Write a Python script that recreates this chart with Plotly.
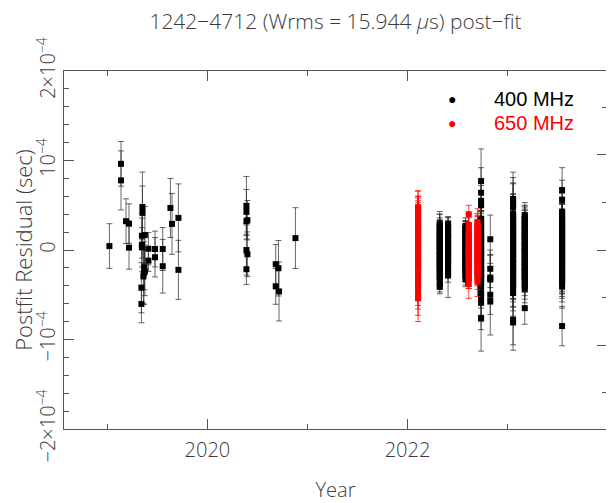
import plotly.graph_objects as go

# ---------------- data (residuals and errors in microseconds) ----------------
# sparse 400 MHz epochs, 2019-2021
early_year = [2019.02, 2019.136, 2019.136, 2019.186, 2019.216, 2019.216, 2019.34, 2019.34,
              2019.35, 2019.35, 2019.345, 2019.345, 2019.345, 2019.36, 2019.365, 2019.37,
              2019.375, 2019.375, 2019.41, 2019.41, 2019.476, 2019.476, 2019.553, 2019.553,
              2019.63, 2019.646, 2019.71, 2019.71,
              2020.39, 2020.39, 2020.39, 2020.40, 2020.39, 2020.40, 2020.39,
              2020.683, 2020.71, 2020.683, 2020.716, 2020.88]
early_res = [4.4, 96.3, 77.8, 32.2, 29.6, 2.6, -60.3, -42.2,
             48.1, 41.5, 15.9, 5.6, 3.0, -29.6, -25.9, -19.3,
             16.7, -24.0, 1.4, -11.9, 1.1, -8.1, 1.1, -18.1,
             47.0, 29.2, 35.9, -22.2,
             49.2, 42.6, 32.2, 33.3, 0.0, -4.8, -21.5,
             -15.9, -20.4, -40.7, -46.3, 13.3]
early_err = [25, 25, 33, 25, 22, 24, 21, 28,
             39, 30, 25, 30, 22, 30, 35, 25,
             32, 27, 18, 12, 20, 22, 24, 30,
             33, 34, 38, 33,
             33, 25, 20, 22, 28, 25, 17,
             22, 31, 20, 33, 34]

# dense 400 MHz epochs
b2_year = 2022.323
b2_res = [30, 28, 25, 26, 22, 20, 17, 18, 14, 11, 12, 8, 5, 6, 2, -1, 0, -4, -7, -6, -10, -13,
          -12, -16, -19, -18, -22, -25, -28, -27, -31, -34, -38, -41]
b2_err = [13, 12, 11, 14, 12, 10, 13, 11, 12, 14, 10, 12, 13, 11, 12, 10, 14, 12, 11, 13, 12, 10,
          11, 13, 12, 14, 10, 12, 11, 13, 12, 10, 9, 8]

b3_year = 2022.406
b3_res = [29, 27, 24, 25, 21, 18, 19, 15, 12, 13, 9, 6, 7, 3, 0, 1, -3, -6, -5, -9, -12, -11,
          -15, -18, -20, -23, -26, -28]
b3_err = [8, 10, 9, 11, 10, 8, 9, 10, 11, 9, 8, 10, 9, 11, 10, 8, 9, 10, 11, 9, 8, 10,
          9, 11, 10, 9, 10, 25]

b4_year = 2022.58
b4_res = [27, 25, 22, 23, 19, 16, 17, 13, 10, 11, 7, 4, 5, 1, -2, -1, -5, -8, -7, -11, -14, -13,
          -17, -20, -19, -23, -26, -29, -33]
b4_err = [9, 8, 10, 9, 8, 10, 9, 8, 10, 9, 8, 9, 10, 8, 9, 10, 8, 9, 10, 8, 9, 10,
          8, 9, 10, 8, 9, 10, 8]

b7_year = 2022.736
b7_res = [77, 64, 55, 50, 35, 33, 30, 31, 27, 24, 25, 21, 18, 19, 15, 12, 13, 9, 6, 7, 3, 0, 1,
          -3, -6, -5, -9, -12, -11, -15, -18, -17, -21, -24, -23, -27, -30, -29, -33, -36, -38,
          -41, -48, -53, -59, -76]
b7_err = [36, 28, 25, 22, 20, 18, 21, 19, 17, 20, 18, 22, 19, 17, 21, 18, 20, 19, 17, 22, 18, 20, 19,
          21, 17, 18, 20, 22, 19, 17, 21, 18, 20, 19, 22, 17, 18, 20, 21, 19, 22,
          24, 25, 27, 30, 37]

b8_year = 2022.828
b8_res = [12, -21, -31, -33, -50, -57]
b8_err = [27, 21, 25, 28, 22, 38]

b9_year = 2023.056
b9_res = [57, 54, 50, 48, 41, 38, 39, 35, 32, 33, 29, 26, 27, 23, 20, 21, 17, 14, 15, 11, 8, 9, 5,
          2, 3, -1, -4, -3, -7, -10, -9, -13, -16, -15, -19, -22, -21, -25, -28, -27, -31, -34,
          -33, -37, -40, -39, -44, -48, -78, -81]
b9_err = [30, 27, 25, 26, 22, 20, 23, 21, 19, 22, 20, 24, 21, 19, 23, 20, 22, 21, 19, 24, 20, 22, 21,
          23, 19, 20, 22, 24, 21, 19, 23, 20, 22, 21, 24, 19, 20, 22, 23, 21, 24, 20,
          22, 21, 23, 25, 24, 26, 28, 31]

b10_year = 2023.173
b10_res = [39, 37, 34, 35, 31, 28, 29, 25, 22, 23, 19, 16, 17, 13, 10, 11, 7, 4, 5, 1, -2, -1, -5,
           -8, -7, -11, -14, -13, -17, -20, -19, -23, -26, -25, -29, -32, -31, -35, -38, -41,
           -43, -65]
b10_err = [14, 13, 15, 12, 14, 13, 15, 12, 13, 14, 12, 15, 13, 14, 12, 13, 15, 14, 12, 13, 14, 15, 12,
           13, 14, 12, 15, 13, 14, 12, 13, 15, 14, 12, 13, 14, 15, 12, 13, 14, 16, 18]

b11_year = 2023.546
b11_res = [67, 56, 43, 41, 38, 39, 35, 32, 33, 29, 26, 27, 23, 20, 21, 17, 14, 15, 11, 8, 9, 5, 2,
           3, -1, -4, -3, -7, -10, -9, -13, -16, -15, -19, -22, -21, -25, -28, -27, -31, -34,
           -33, -37, -41, -85]
b11_err = [25, 22, 20, 18, 21, 19, 17, 20, 18, 22, 19, 17, 21, 18, 20, 19, 17, 22, 18, 20, 19, 21, 17,
           18, 20, 22, 19, 17, 21, 18, 20, 19, 22, 17, 18, 20, 21, 19, 22, 18, 20,
           19, 21, 24, 22]

# dense 650 MHz epochs
r1_year = 2022.106
r1_res = [48, 44, 46, 41, 38, 36, 39, 33, 30, 31, 27, 24, 25, 21, 18, 19, 15, 12, 13, 9, 6, 7, 3,
          0, -2, -5, -4, -8, -11, -10, -14, -17, -16, -20, -23, -25, -31, -34, -37, -40, -44,
          -46, -52, -54]
r1_err = [18, 16, 20, 17, 15, 19, 21, 16, 18, 15, 17, 20, 16, 18, 15, 19, 17, 16, 20, 18, 15, 17, 19,
          16, 18, 20, 15, 17, 16, 19, 18, 15, 17, 20, 16, 18, 15, 17, 19, 16, 18,
          20, 21, 26]

r5_year = 2022.613
r5_res = [40, 28, 25, 20, 17, 18, 14, 11, 8, 9, 5, 2, 3, -1, -4, -3, -7, -10, -9, -13, -16, -15,
          -19, -22, -25, -28, -31, -33, -38]
r5_err = [10, 12, 11, 10, 9, 11, 10, 12, 9, 10, 11, 10, 12, 9, 11, 10, 12, 10, 9, 11, 10, 12,
          11, 10, 9, 11, 12, 10, 16]

r6_year = 2022.70
r6_res = [31, 29, 26, 27, 23, 20, 21, 17, 14, 15, 11, 8, 9, 5, 2, 3, -1, -4, -3, -7, -10, -9,
          -13, -16, -15, -19, -22, -25, -24, -28, -31, -35]
r6_err = [15, 12, 13, 11, 14, 12, 13, 11, 12, 14, 13, 11, 12, 13, 14, 11, 12, 13, 12, 14, 11, 13,
          12, 14, 13, 11, 12, 13, 14, 12, 13, 17]

legend_names = ["400 MHz", "650 MHz"]
legend_colors = ["black", "#ff0000"]

US = 1e-6  # microseconds -> seconds

# ---------------- assemble ----------------
def gather(groups):
    xs, ys, es = [], [], []
    for yr, res, err in groups:
        if isinstance(yr, list):
            xs += yr
        else:
            xs += [yr] * len(res)
        ys += [v * US for v in res]
        es += [v * US for v in err]
    return xs, ys, es

x400, y400, e400 = gather([
    (early_year, early_res, early_err),
    (b2_year, b2_res, b2_err), (b3_year, b3_res, b3_err), (b4_year, b4_res, b4_err),
    (b7_year, b7_res, b7_err), (b8_year, b8_res, b8_err), (b9_year, b9_res, b9_err),
    (b10_year, b10_res, b10_err), (b11_year, b11_res, b11_err),
])
x650, y650, e650 = gather([
    (r1_year, r1_res, r1_err), (r5_year, r5_res, r5_err), (r6_year, r6_res, r6_err),
])

AX = "#555555"
TXT = "#3a3a3a"
FONT = "Open Sans"

fig = go.Figure()

fig.add_trace(go.Scatter(
    x=x400, y=y400, mode="markers", showlegend=False,
    marker=dict(symbol="square", size=6, color="black"),
    error_y=dict(type="data", array=e400, visible=True, color="rgba(40,40,40,0.7)",
                 thickness=1, width=3),
))
fig.add_trace(go.Scatter(
    x=x650, y=y650, mode="markers", showlegend=False,
    marker=dict(symbol="square", size=6, color="#ff0000"),
    error_y=dict(type="data", array=e650, visible=True, color="rgba(255,0,0,0.75)",
                 thickness=1, width=3),
))
# carrier for the right-hand tick axis
fig.add_trace(go.Scatter(x=[None], y=[None], yaxis="y2", showlegend=False, mode="markers"))

# legend (drawn as text)
annotations = []
leg_y = [0.921, 0.854]
for name, col, yy in zip(legend_names, legend_colors, leg_y):
    annotations.append(dict(xref="paper", yref="paper", x=0.715, y=yy, text="●",
                            showarrow=False, xanchor="center", yanchor="middle",
                            font=dict(family="DejaVu Sans", size=14, color=col)))
    annotations.append(dict(xref="paper", yref="paper", x=0.789, y=yy, text=name,
                            showarrow=False, xanchor="left", yanchor="middle",
                            font=dict(family="Liberation Sans", size=20, color=col)))

tfont = dict(size=20, color=TXT, family=FONT, weight=300)

# the page adds an 8 px body margin, so the figure is 8 px smaller than the window
fig.update_layout(
    width=606, height=495,
    margin=dict(l=56, r=7, t=63, b=74),
    plot_bgcolor="white", paper_bgcolor="white",
    font=dict(family=FONT, color=TXT, size=18, weight=300),
    showlegend=False,
    annotations=annotations,
    title=dict(text="1242−4712 (Wrms = 15.944 <i>μ</i>s) post−fit",
               xref="paper", x=0.5, xanchor="center", y=0.973, yanchor="middle",
               font=dict(size=21, color=TXT, family=FONT, weight=300)),
    xaxis=dict(
        range=[2018.566, 2023.995], tickmode="linear", tick0=2020, dtick=2,
        ticks="inside", ticklen=10, tickcolor=AX, tickwidth=1,
        minor=dict(tick0=2019, dtick=1, ticks="inside", ticklen=5, tickcolor=AX),
        showline=True, linecolor=AX, linewidth=1, mirror="ticks",
        showgrid=False, zeroline=False, automargin=False,
        tickfont=tfont, ticklabelstandoff=3,
        title=dict(text="Year", standoff=20, font=tfont),
    ),
    yaxis=dict(
        range=[-2.0005e-4, 2.0005e-4],
        tickmode="array", tickvals=[-2e-4, -1e-4, 0, 1e-4, 2e-4],
        ticktext=["−2×10<sup>−4</sup>", "−10<sup>−4</sup>", "0",
                  "10<sup>−4</sup>", "2×10<sup>−4</sup>"],
        tickangle=-90,
        ticks="inside", ticklen=10, tickcolor=AX, tickwidth=1,
        minor=dict(tick0=0, dtick=2e-5, ticks="inside", ticklen=5, tickcolor=AX),
        showline=True, linecolor=AX, linewidth=1, mirror=True,
        showgrid=False, zeroline=False, automargin=False,
        tickfont=tfont,
        title=dict(text="Postfit Residual (sec)", standoff=13,
                   font=dict(size=22, color=TXT, family=FONT, weight=300)),
    ),
    yaxis2=dict(
        overlaying="y", side="right", anchor="x",
        range=[-1.878, 1.878], tickmode="linear", tick0=0, dtick=1,
        ticks="inside", ticklen=10, tickcolor=AX, tickwidth=1,
        minor=dict(tick0=0, dtick=0.5, ticks="inside", ticklen=5, tickcolor=AX),
        showticklabels=False, showgrid=False, zeroline=False, showline=False,
        automargin=False,
    ),
)

fig.write_html("out.html")
